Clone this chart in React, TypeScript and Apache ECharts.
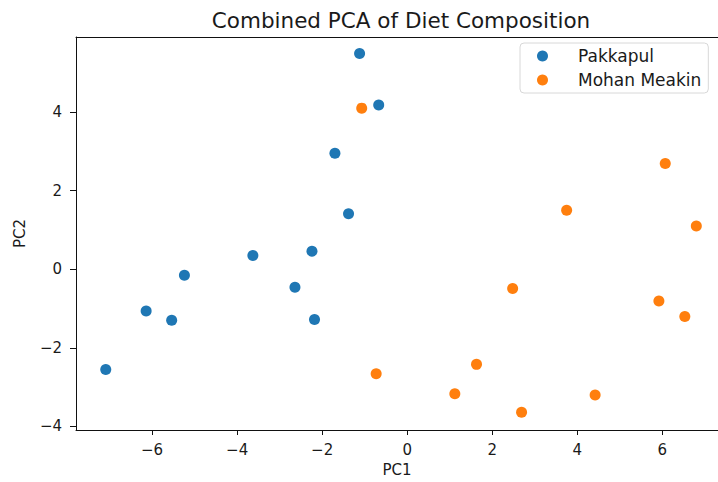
import React, { useEffect, useRef } from "react";
import * as echarts from "echarts";

const pakkapulPC1 = [-1.12, -0.67, -1.7, -1.38, -3.63, -2.24, -5.24, -2.64, -6.14, -5.54, -2.18, -7.09];
const pakkapulPC2 = [5.49, 4.18, 2.95, 1.41, 0.35, 0.46, -0.15, -0.46, -1.06, -1.3, -1.28, -2.55];
const mohanPC1 = [-1.07, 6.07, 3.75, 6.8, 2.48, 5.92, 6.53, -0.73, 1.63, 1.12, 2.69, 4.42];
const mohanPC2 = [4.1, 2.69, 1.5, 1.1, -0.49, -0.81, -1.2, -2.66, -2.42, -3.17, -3.64, -3.2];
const xTicks = [-6, -4, -2, 0, 2, 4, 6];
const yTicks = [-4, -2, 0, 2, 4];

const FONT = "DejaVu Sans";
const TXT = "#1a1a1a";
const fmt = (v: number) => String(v).replace("-", "\u2212");

export default function App() {
  const ref = useRef<HTMLDivElement>(null);
  useEffect(() => {
    if (!ref.current) return;
    const chart = echarts.init(ref.current, undefined, { renderer: "svg" });
    const pts = (xs: number[], ys: number[]) => xs.map((x, i) => [x, ys[i]]);
    chart.setOption({
      animation: false,
      backgroundColor: "#ffffff",
      title: {
        text: "Combined PCA of Diet Composition",
        left: 401,
        top: 9,
        padding: 0,
        textAlign: "center",
        textStyle: { fontFamily: FONT, fontSize: 21.5, fontWeight: "normal", color: TXT },
      },
      legend: {
        orient: "vertical",
        left: 520,
        top: 43,
        padding: [3, 7, 3, 17],
        itemGap: 4,
        itemWidth: 11,
        itemHeight: 11,
        icon: "circle",
        backgroundColor: "rgba(255,255,255,0.85)",
        borderColor: "#d8d8d8",
        borderWidth: 1,
        borderRadius: 4,
        textStyle: { fontFamily: FONT, fontSize: 17, color: TXT, lineHeight: 20, padding: [0, 0, 0, 25] },
        data: ["Pakkapul", "Mohan Meakin"],
      },
      grid: { left: 76, right: 0, top: 37, bottom: 45 },
      xAxis: [
        {
          type: "value",
          min: -7.79,
          max: 7.31,
          name: "PC1",
          nameLocation: "middle",
          nameGap: 32,
          nameTextStyle: { fontFamily: FONT, fontSize: 15, color: TXT },
          axisLine: { show: true, onZero: false, lineStyle: { color: "#111", width: 1 } },
          axisTick: { show: true, length: 5, customValues: xTicks, lineStyle: { color: "#111" } },
          axisLabel: {
            customValues: xTicks,
            margin: 12,
            fontFamily: FONT,
            fontSize: 15,
            color: TXT,
            formatter: fmt,
          },
          splitLine: { show: false },
        },
        {
          type: "value",
          position: "top",
          min: -7.79,
          max: 7.31,
          axisLine: { show: true, onZero: false, lineStyle: { color: "#111", width: 1 } },
          axisTick: { show: false },
          axisLabel: { show: false },
          splitLine: { show: false },
        },
      ],
      yAxis: {
        type: "value",
        min: -4.09,
        max: 5.91,
        name: "PC2",
        nameLocation: "middle",
        nameGap: 49,
        nameTextStyle: { fontFamily: FONT, fontSize: 15, color: TXT },
        axisLine: { show: true, onZero: false, lineStyle: { color: "#111", width: 1 } },
        axisTick: { show: true, length: 6, customValues: yTicks, lineStyle: { color: "#111" } },
        axisLabel: {
          customValues: yTicks,
          margin: 14,
          fontFamily: FONT,
          fontSize: 15,
          color: TXT,
          formatter: fmt,
        },
        splitLine: { show: false },
      },
      series: [
        {
          name: "Pakkapul",
          type: "scatter",
          symbolSize: 11,
          itemStyle: { color: "#1f77b4", opacity: 1 },
          data: pts(pakkapulPC1, pakkapulPC2),
        },
        {
          name: "Mohan Meakin",
          type: "scatter",
          symbolSize: 11,
          itemStyle: { color: "#ff7f0e", opacity: 1 },
          data: pts(mohanPC1, mohanPC2),
        },
      ],
    });
    return () => chart.dispose();
  }, []);
  return <div ref={ref} style={{ width: 718, height: 482, position: "absolute", left: 0, top: 0 }} />;
}
